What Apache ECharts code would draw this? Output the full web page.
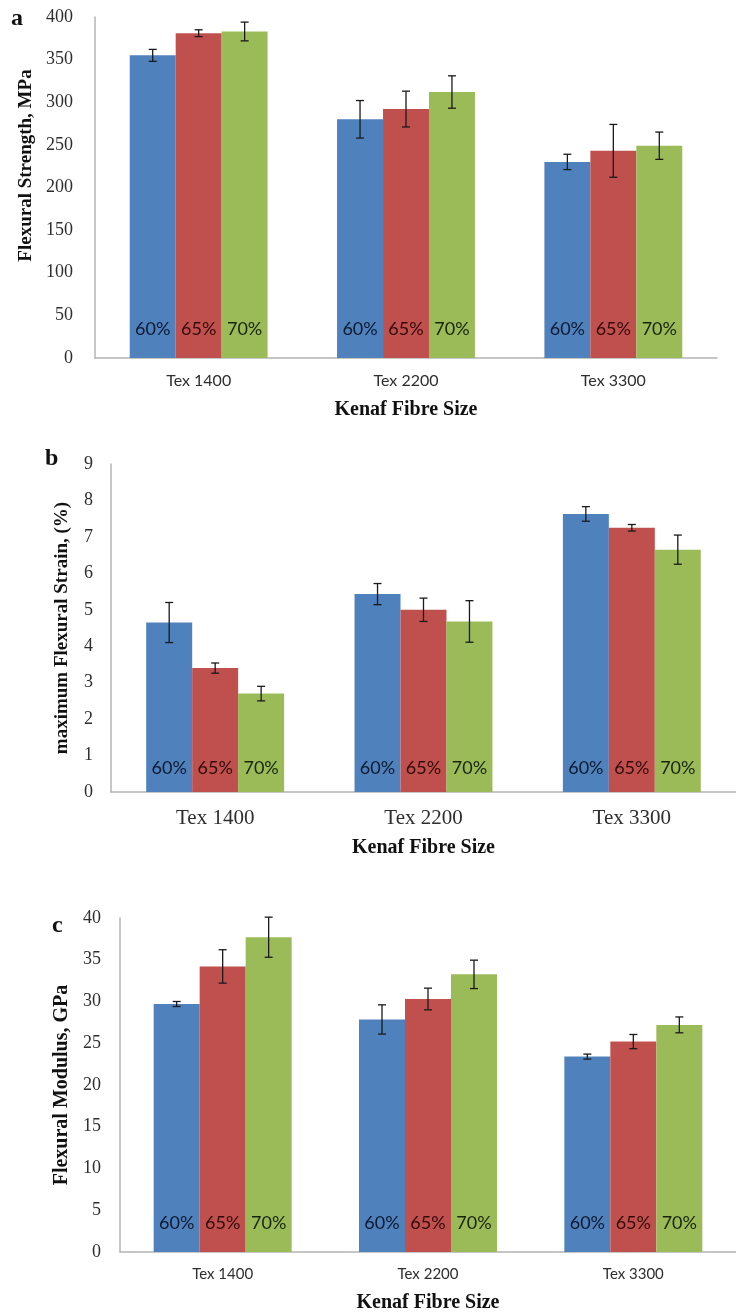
<!DOCTYPE html>
<html lang="en">
<head>
    <meta charset="UTF-8">
    <title>Kenaf fibre flexural properties</title>
    <script src="https://cdn.jsdelivr.net/npm/echarts@6/dist/echarts.min.js"></script>
</head>
<style>
    body { margin: 0; background: #fff; }
    #chart { width: 736px; height: 1315px; }
</style>
<body>
<div id="chart"></div>

<script type="text/javascript">
    // categories and series names
    var fibreSizes = ['Tex 1400', 'Tex 2200', 'Tex 3300'];
    var fibreContent = ['60%', '65%', '70%'];

    // a: flexural strength, MPa (mean, error)
    var strength60 = [355, 280, 230];
    var strength65 = [381, 292, 243];
    var strength70 = [383, 312, 249];
    var strengthErr60 = [7, 22, 9];
    var strengthErr65 = [4, 21, 31];
    var strengthErr70 = [11, 19, 16];

    // b: maximum flexural strain, %
    var strain60 = [4.65, 5.43, 7.63];
    var strain65 = [3.4, 5.0, 7.25];
    var strain70 = [2.7, 4.68, 6.65];
    var strainErr60 = [0.55, 0.29, 0.2];
    var strainErr65 = [0.14, 0.32, 0.09];
    var strainErr70 = [0.2, 0.57, 0.4];

    // c: flexural modulus, GPa
    var modulus60 = [29.7, 27.85, 23.4];
    var modulus65 = [34.2, 30.3, 25.2];
    var modulus70 = [37.7, 33.25, 27.2];
    var modulusErr60 = [0.3, 1.75, 0.3];
    var modulusErr65 = [2.0, 1.3, 0.85];
    var modulusErr70 = [2.4, 1.7, 0.95];

    var barColors = ['#4f81bd', '#c0504d', '#9bbb59'];
    var labelColors = ['#0c1a30', '#330a09', '#18250a'];
    var serif = '"Liberation Serif", "DejaVu Serif", serif';
    var sans = 'Lato, "Open Sans", sans-serif';

    var chart = echarts.init(document.getElementById('chart'));

    // panel layout: grid + axis styling per panel
    var panels = [
        {grid: {left: 95, top: 17, width: 622, height: 341}, max: 400, interval: 50,
            yName: 'Flexural Strength, MPa', yGap: 57, yPad: [0, 0, 0, 44], yFont: 19, yMargin: 22,
            catFont: {fontFamily: sans, fontSize: 16}, catMargin: 15, xGap: 42,
            gap: '33.5%', labelDist: 20, means: [strength60, strength65, strength70],
            errs: [strengthErr60, strengthErr65, strengthErr70]},
        {grid: {left: 111, top: 464, width: 625, height: 328}, max: 9, interval: 1,
            yName: 'maximum Flexural Strain, (%)', yGap: 39, yPad: 0, yFont: 19, yMargin: 18,
            catFont: {fontFamily: serif, fontSize: 21}, catMargin: 16, xGap: 46,
            gap: '33.8%', labelDist: 15, means: [strain60, strain65, strain70],
            errs: [strainErr60, strainErr65, strainErr70]},
        {grid: {left: 120, top: 918, width: 616, height: 334}, max: 40, interval: 5,
            yName: 'Flexural Modulus, GPa', yGap: 47, yPad: 0, yFont: 20, yMargin: 19,
            catFont: {fontFamily: sans, fontSize: 15}, catMargin: 15, xGap: 41,
            gap: '32.8%', labelDist: 20, means: [modulus60, modulus65, modulus70],
            errs: [modulusErr60, modulusErr65, modulusErr70]}
    ];

    var axisLine = {show: true, lineStyle: {color: '#b4b4b4', width: 1.5}};

    var grids = [], xAxes = [], yAxes = [], series = [];

    panels.forEach(function (p, pi) {
        grids.push(p.grid);
        xAxes.push({
            type: 'category', gridIndex: pi, data: fibreSizes,
            axisLine: axisLine, axisTick: {show: false},
            axisLabel: Object.assign({color: '#2e2e2e', margin: p.catMargin}, p.catFont),
            name: 'Kenaf Fibre Size', nameLocation: 'middle', nameGap: p.xGap,
            nameTextStyle: {fontFamily: serif, fontWeight: 'bold', fontSize: 20, color: '#111'}
        });
        yAxes.push({
            type: 'value', gridIndex: pi, min: 0, max: p.max, interval: p.interval,
            axisLine: axisLine, axisTick: {show: false}, splitLine: {show: false},
            axisLabel: {fontFamily: serif, fontSize: 18, color: '#2e2e2e', margin: p.yMargin},
            name: p.yName, nameLocation: 'middle', nameGap: p.yGap, nameRotate: 90,
            nameTextStyle: {fontFamily: serif, fontWeight: 'bold', fontSize: p.yFont, color: '#111', padding: p.yPad}
        });

        fibreContent.forEach(function (name, k) {
            series.push({
                type: 'bar', name: name, xAxisIndex: pi, yAxisIndex: pi,
                data: p.means[k], barGap: '0%', barCategoryGap: p.gap,
                itemStyle: {color: barColors[k]},
                label: {
                    show: true, position: 'insideBottom', distance: p.labelDist,
                    formatter: '{a}', fontFamily: sans, fontSize: 18, color: labelColors[k]
                }
            });
        });

        // error bars, drawn over the bars
        fibreContent.forEach(function (name, k) {
            var gapRatio = parseFloat(p.gap) / 100;
            series.push({
                type: 'custom', xAxisIndex: pi, yAxisIndex: pi, z: 5, silent: true,
                data: p.means[k].map(function (m, i) {
                    return [i, m - p.errs[k][i], m + p.errs[k][i]];
                }),
                renderItem: function (params, api) {
                    var band = api.size([1, 0])[0];
                    var bw = band * (1 - gapRatio) / 3;
                    var lo = api.coord([api.value(0), api.value(1)]);
                    var hi = api.coord([api.value(0), api.value(2)]);
                    var x = lo[0] + (k - 1) * bw;
                    var st = {stroke: '#1a1a1a', lineWidth: 1.3};
                    return {
                        type: 'group',
                        children: [
                            {type: 'line', shape: {x1: x, y1: lo[1], x2: x, y2: hi[1]}, style: st},
                            {type: 'line', shape: {x1: x - 4, y1: lo[1], x2: x + 4, y2: lo[1]}, style: st},
                            {type: 'line', shape: {x1: x - 4, y1: hi[1], x2: x + 4, y2: hi[1]}, style: st}
                        ]
                    };
                }
            });
        });
    });

    var letterFont = 'bold 24px ' + serif;
    var option = {
        backgroundColor: '#fff',
        animation: false,
        grid: grids,
        xAxis: xAxes,
        yAxis: yAxes,
        series: series,
        graphic: [
            {type: 'text', x: 11, y: 19, style: {text: 'a', font: letterFont, fill: '#111', verticalAlign: 'middle'}},
            {type: 'text', x: 45, y: 459, style: {text: 'b', font: letterFont, fill: '#111', verticalAlign: 'middle'}},
            {type: 'text', x: 52, y: 926, style: {text: 'c', font: letterFont, fill: '#111', verticalAlign: 'middle'}}
        ]
    };
    chart.setOption(option);
</script>
</body>
</html>
